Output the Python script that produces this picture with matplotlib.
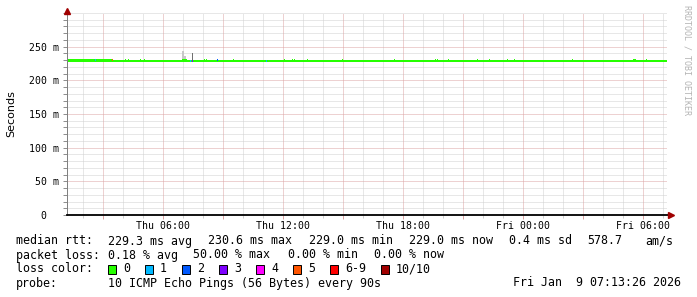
import matplotlib
matplotlib.use('Agg')
import matplotlib.pyplot as plt
from matplotlib.patches import Rectangle

# ---------------- data (time in hours since Thu 00:00) ----------------
t_start = 1.2239   # Thu 01:13:26
t_end = 31.2239    # Fri 07:13:26
step = 0.05        # one 3-minute step

rtt_base = 229.0
early_end = 3.52
early_rtt = 230.5

bump_times = [4.12, 4.29, 4.89, 5.09, 6.96, 7.01, 7.06, 7.11, 7.16, 8.09, 8.19,
              9.54, 12.09, 12.49, 12.59, 13.24, 14.99, 17.59, 19.64, 19.74,
              20.29, 21.74, 22.34, 23.24, 23.59, 26.49, 29.54, 29.59, 29.64, 30.16]
bump_rtt = 230.5

loss_times = [2.64, 3.49, 7.37, 7.47, 8.72, 11.17]
loss_counts = ['1', '5', '1', '3', '2', '1']
loss_rtt = [230.5, 230.5, 229.0, 229.0, 230.0, 229.0]

smoke_start = [2.03, 6.99, 7.07, 7.46]
smoke_end = [2.07, 7.07, 7.16, 7.51]
smoke_lo = [229.0, 231.0, 231.0, 229.0]
smoke_hi = [231.5, 243.0, 235.5, 241.0]
smoke_color = ['#606060', '#c8c8c8', '#c8c8c8', '#707070']

loss_labels = ['0', '1', '2', '3', '4', '5', '6-9', '10/10']
loss_colors = ['#26ff00', '#00b8ff', '#0059ff', '#7e00ff', '#ff00ff', '#ff5500', '#ff0000', '#a10000']

xtick_major = [3, 6, 9, 12, 15, 18, 21, 24, 27, 30]
xtick_labels = ['', 'Thu 06:00', '', 'Thu 12:00', '', 'Thu 18:00', '', 'Fri 00:00', '', 'Fri 06:00']
xtick_minor = list(range(2, 32))
ytick_major = [0, 50, 100, 150, 200, 250]
ytick_labels = ['0  ', '50 m', '100 m', '150 m', '200 m', '250 m']
ytick_minor = list(range(0, 301, 10))

stats_rtt = ['229.3 ms avg', '230.6 ms max', '229.0 ms min', '229.0 ms now', '0.4 ms sd', '578.7', 'am/s']
stats_rtt_x = [108, 208, 309, 409, 509, 587, 645]
stats_loss = ['0.18 % avg', '50.00 % max', '0.00 % min', '0.00 % now']
stats_loss_x = [108, 193, 288, 374]
legend_box_x = [108, 145, 182, 219, 256, 293, 330, 381]
probe_text = '10 ICMP Echo Pings (56 Bytes) every 90s'
date_text = 'Fri Jan  9 07:13:26 2026'

# ---------------- figure ----------------
W, H = 697, 297
fig = plt.figure(figsize=(W / 100, H / 100), dpi=100)
ax = fig.add_axes([67 / W, (H - 215) / H, 600 / W, 202 / H])
ax.set_xlim(t_start, t_end)
ax.set_ylim(0, 300)

mono = 'DejaVu Sans Mono'
px = 72 / 100.0

minor_col = '#d0d0d0'
major_col = '#dda4a4'
gkw = dict(lw=px, ls=(0, (1, 1)))
for x in xtick_minor:
    if x not in xtick_major:
        ax.axvline(x, color=minor_col, zorder=1, **gkw)
for y in ytick_minor:
    if y not in ytick_major and y != 0:
        ax.axhline(y, color=minor_col, zorder=1, **gkw)
for x in xtick_major:
    ax.axvline(x, color=major_col, zorder=1.5, **gkw)
for y in ytick_major[1:]:
    ax.axhline(y, color=major_col, zorder=1.5, **gkw)

# smoke
for s, e, lo, hi, c in zip(smoke_start, smoke_end, smoke_lo, smoke_hi, smoke_color):
    ax.bar(s, hi - lo, bottom=lo, width=e - s, align='edge', color=c, lw=0, zorder=2)

lw = 2 * px
ax.hlines([rtt_base, early_rtt], [t_start, t_start], [t_end, early_end],
          color=loss_colors[0], lw=lw, zorder=3)
ax.hlines([bump_rtt] * len(bump_times), bump_times, [b + step for b in bump_times],
          color=loss_colors[0], lw=lw, zorder=3)
for t, c, r in zip(loss_times, loss_counts, loss_rtt):
    ax.hlines(r, t, t + step, color=loss_colors[loss_labels.index(c)], lw=lw, zorder=4)

# ticks
ax.set_xticks(xtick_major)
ax.set_xticklabels(xtick_labels, fontfamily=mono, fontsize=7.1)
ax.set_xticks(xtick_minor, minor=True)
ax.set_yticks(ytick_major)
ax.set_yticklabels(ytick_labels, fontfamily=mono, fontsize=7.1)
ax.set_yticks(ytick_minor, minor=True)
ax.tick_params(axis='x', which='major', length=3, width=px, color=major_col, pad=1.5)
ax.tick_params(axis='x', which='minor', length=2, width=px, color=minor_col)
ax.tick_params(axis='y', which='both', length=3, width=px, color='#909090', pad=2.5)

for sp in ax.spines.values():
    sp.set_visible(False)
ax.plot([0, 0], [0, 1.005], transform=ax.transAxes, color='#808080', lw=px, clip_on=False, zorder=5)
ax.plot([0, 1.0065], [0, 0], transform=ax.transAxes, color='black', lw=1.3, clip_on=False, zorder=5)
ax.plot([1.0065], [0], transform=ax.transAxes, marker='>', ms=4.5, color='#a00000', clip_on=False, zorder=6)
ax.plot([0], [1.012], transform=ax.transAxes, marker='^', ms=4.5, color='#a00000', clip_on=False, zorder=6)

fig.text(11 / W, 1 - 114 / H, 'Seconds', rotation=90, fontsize=8, fontfamily='DejaVu Sans',
         ha='center', va='center')
fig.text(687 / W, 1 - 60 / H, 'RRDTOOL / TOBI OETIKER', rotation=270, fontsize=6,
         fontfamily=mono, color='#b4b4b4', ha='center', va='center')

fs = 8.4
def tx(x, y, s, **kw):
    fig.text(x / W, 1 - y / H, s, fontsize=fs, fontfamily=mono, va='center', ha='left', **kw)

tx(16, 241, 'median rtt:')
for s, x in zip(stats_rtt, stats_rtt_x):
    tx(x, 241, s)
tx(16, 255, 'packet loss:')
for s, x in zip(stats_loss, stats_loss_x):
    tx(x, 255, s)
tx(16, 269, 'loss color:')
for lab, col, x in zip(loss_labels, loss_colors, legend_box_x):
    fig.patches.append(Rectangle((x / W, 1 - 274 / H), 8 / W, 9 / H, transform=fig.transFigure,
                                 facecolor=col, edgecolor='black', lw=0.7))
    tx(x + 15, 269, lab)
tx(16, 283, 'probe:')
tx(108, 283, probe_text)
fig.text(681 / W, 1 - 283 / H, date_text, fontsize=fs, fontfamily=mono, va='center', ha='right')

fig.savefig('out.png', dpi=100)
